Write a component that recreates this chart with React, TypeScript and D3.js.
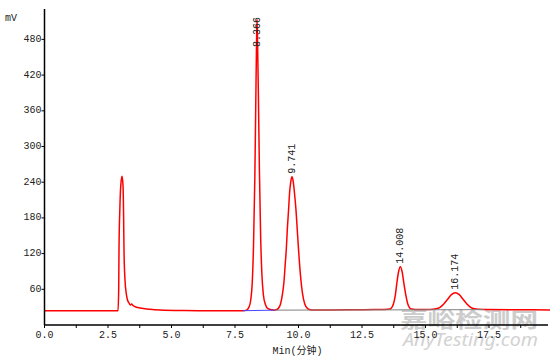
import React from "react";
import * as d3 from "d3";

// ---- data ----
const yTickValues = [60, 120, 180, 240, 300, 360, 420, 480];
const xTickValues = [0, 2.5, 5, 7.5, 10, 12.5, 15, 17.5];
const xTickLabels = ["0.0", "2.5", "5.0", "7.5", "10.0", "12.5", "15.0", "17.5"];
const xMinorTicks = [1.25, 3.75, 6.25, 8.75, 11.25, 13.75, 16.25, 18.75];

const peakTimes = [8.366, 9.741, 14.008, 16.174];
const peakHeights = [514, 249, 98, 54.3];
const peakLabels = ["8.366", "9.741", "14.008", "16.174"];

// trace segments [time (min), signal (mV)]
const segStart: [number, number][] = [
  [0, 23.8], [1.0, 23.8], [2.0, 23.8], [2.85, 23.8],
];
const segPeak1: [number, number][] = [
  [2.894, 23.8], [2.921, 58.8], [2.933, 126], [2.965, 193], [3.004, 235],
  [3.051, 250], [3.091, 235], [3.114, 185], [3.13, 126], [3.169, 75.6],
  [3.228, 50.4], [3.268, 42], [3.327, 37], [3.378, 33.6], [3.433, 35.3],
  [3.484, 32.8], [3.602, 30.3], [3.76, 28.6], [4.154, 26.4], [4.547, 25.2],
];
const segFlat1: [number, number][] = [
  [5.5, 24.2], [6.5, 23.9], [7.3, 23.8], [7.8, 24],
];
const segPeak2: [number, number][] = [
  [7.95, 25], [8.05, 30], [8.12, 42], [8.18, 72], [8.23, 135], [8.28, 245],
  [8.32, 380], [8.345, 465], [8.366, 514], [8.39, 470], [8.42, 390],
  [8.46, 262], [8.51, 148], [8.56, 84], [8.62, 50], [8.7, 34], [8.8, 27.5],
  [8.95, 25.5], [9.05, 25],
];
const segPeak3: [number, number][] = [
  [9.11, 25.5], [9.2, 27.5], [9.29, 34.8], [9.38, 55.3], [9.43, 73.5],
  [9.47, 97.7], [9.52, 127.6], [9.56, 161], [9.61, 194], [9.65, 222.7],
  [9.7, 242], [9.741, 249], [9.79, 242], [9.84, 222.7], [9.9, 194],
  [9.95, 161], [10.0, 127.6], [10.05, 97.7], [10.1, 73.5], [10.15, 55.3],
  [10.25, 34.8], [10.36, 27.5], [10.46, 25.8], [10.6, 25.2],
];
const segFlat2: [number, number][] = [
  [11.3, 25.3], [12.2, 25.6], [13.0, 25.9], [13.4, 26],
];
const segPeak4: [number, number][] = [
  [13.6, 26.8], [13.67, 29.2], [13.74, 35.7], [13.81, 49.4], [13.87, 69.7],
  [13.94, 89.5], [14.008, 98], [14.08, 89.5], [14.15, 69.7], [14.23, 49.4],
  [14.3, 35.7], [14.37, 29.2], [14.44, 26.8], [14.6, 26],
];
const segPeak5: [number, number][] = [
  [15.1, 26], [15.27, 26.3], [15.42, 27.2], [15.57, 29.8], [15.72, 35.2],
  [15.87, 43.2], [16.02, 51], [16.174, 54.3], [16.33, 51], [16.48, 43.2],
  [16.63, 35.2], [16.78, 29.8], [16.93, 27.2], [17.08, 26.3], [17.4, 26],
];
const segEnd: [number, number][] = [
  [18.5, 25.6], [19.9, 25.4],
];

// integration baselines
const blueBaseline: [number, number][] = [[7.8, 24], [9.08, 25]];
const grayBaseline: [number, number][] = [[9.08, 25], [17.3, 25.8]];

// ---- layout ----
const W = 550;
const H = 361;
const x0 = 44.5;
const xEnd = 548;
const yBottom = 325;
const yTop = 9;

export default function App() {
  const x = d3.scaleLinear().domain([0, (xEnd - x0) / 25.4]).range([x0, xEnd]);
  const y = d3.scaleLinear().domain([0, (yBottom - yTop) / 0.595]).range([yBottom, yTop]);

  const trace = [
    ...segStart, ...segPeak1, ...segFlat1, ...segPeak2, ...segPeak3,
    ...segFlat2, ...segPeak4, ...segPeak5, ...segEnd,
  ];
  const line = d3
    .line<[number, number]>()
    .x((d) => x(d[0]))
    .y((d) => y(d[1]))
    .curve(d3.curveMonotoneX);

  const font = "'Liberation Mono', 'Noto Sans CJK SC', monospace";
  const textColor = "#222";

  return (
    <svg
      width={W}
      height={H}
      viewBox={`0 0 ${W} ${H}`}
      style={{ position: "absolute", left: 0, top: 0, background: "#fff" }}
    >
      <rect x={0} y={0} width={W} height={H} fill="#fff" />

      {/* watermark */}
      <text
        x={400}
        y={327}
        fontFamily="'Noto Sans CJK SC', sans-serif"
        fontWeight={700}
        fontSize={21}
        fill="#c4c4c4"
        opacity={0.85}
        textLength={138}
        lengthAdjust="spacingAndGlyphs"
      >
        嘉峪检测网
      </text>
      <text
        x={403}
        y={346}
        fontFamily="'Noto Sans', sans-serif"
        fontStyle="italic"
        fontSize={18}
        fill="#cbcbcb"
        opacity={0.85}
        textLength={135}
        lengthAdjust="spacingAndGlyphs"
      >
        AnyTesting.com
      </text>

      {/* trace */}
      <path d={line(trace) || ""} fill="none" stroke="#ff0000" strokeWidth={1.5} />

      {/* integration baselines */}
      <path d={line.curve(d3.curveLinear)(blueBaseline) || ""} fill="none" stroke="#4646ff" strokeWidth={1} />
      <path d={line.curve(d3.curveLinear)(grayBaseline) || ""} fill="none" stroke="#808080" strokeWidth={1} />

      {/* peak labels */}
      {peakTimes.map((t, i) => {
        const len = peakLabels[i].length * 6;
        const ly = Math.max(y(peakHeights[i]) - 3, 17 + len);
        return (
          <text
            key={peakLabels[i]}
            transform={`translate(${x(t) + 0.5},${ly}) rotate(-90)`}
            fontFamily={font}
            fontSize={10}
            fill={textColor}
            dominantBaseline="central"
          >
            {peakLabels[i]}
          </text>
        );
      })}

      {/* y axis */}
      <line x1={x0} x2={x0} y1={yTop} y2={yBottom} stroke="#000" strokeWidth={1.5} />
      {yTickValues.map((v) => (
        <g key={v}>
          <line x1={x0 - 3} x2={x0} y1={y(v)} y2={y(v)} stroke="#000" strokeWidth={1} />
          <text
            x={x0 - 3}
            y={y(v)}
            textAnchor="end"
            dominantBaseline="central"
            fontFamily={font}
            fontSize={10}
            fill={textColor}
          >
            {v}
          </text>
        </g>
      ))}
      <text x={5} y={21} fontFamily={font} fontSize={10} fill={textColor}>
        mV
      </text>

      {/* x axis */}
      <line x1={x0} x2={xEnd} y1={yBottom} y2={yBottom} stroke="#000" strokeWidth={1.5} />
      {xMinorTicks.map((t) => (
        <line key={t} x1={x(t)} x2={x(t)} y1={yBottom} y2={yBottom + 3} stroke="#000" strokeWidth={1} />
      ))}
      {xTickValues.map((t, i) => (
        <g key={t}>
          <line x1={x(t)} x2={x(t)} y1={yBottom} y2={yBottom + 3} stroke="#000" strokeWidth={1} />
          <text
            x={x(t)}
            y={338}
            textAnchor="middle"
            fontFamily={font}
            fontSize={10}
            fill={textColor}
          >
            {xTickLabels[i]}
          </text>
        </g>
      ))}
      <text x={297.5} y={354} textAnchor="middle" fontFamily={font} fontSize={10} fill={textColor}>
        Min(分钟)
      </text>
    </svg>
  );
}
